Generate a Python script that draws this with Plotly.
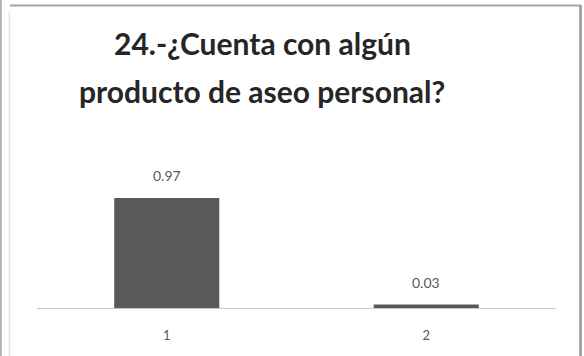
import plotly.graph_objects as go

# Survey answer categories and their shares
categories = ["1", "2"]
shares = [0.97, 0.03]
title_lines = ["24.-¿Cuenta con algún", "producto de aseo personal?"]

W, H = 584, 356
L, R, T, B = 37, 28, 100, 48
plot_w = W - L - R
plot_h = H - T - B
y_max = 1.834

def px_x(p):
    return (p - L) / plot_w

def px_y(p):
    return (H - B - p) / plot_h

fig = go.Figure()
fig.add_trace(go.Bar(
    x=categories,
    y=shares,
    marker=dict(color="#595959", line=dict(width=0)),
    width=0.405,
    hoverinfo="skip",
))

annotations = []
for i, v in enumerate(shares):
    annotations.append(dict(
        x=i, y=v, xref="x", yref="y", text=f"{v:.2f}", showarrow=False,
        yanchor="bottom", yshift=12,
        font=dict(family="Lato, Open Sans, sans-serif", size=14, color="#595959"),
    ))

# Two-line chart title
for i, line in enumerate(title_lines):
    annotations.append(dict(
        x=px_x(262), y=px_y(43 + 48 * i), xref="paper", yref="paper",
        text=line, showarrow=False, xanchor="center", yanchor="middle",
        font=dict(family="Lato, Open Sans, sans-serif", size=30, color="#262626",
                  weight="bold"),
    ))

frame = "#a6a6a6"
shapes = [
    dict(type="line", xref="paper", yref="paper", x0=px_x(0.8), x1=px_x(0.8),
         y0=px_y(0), y1=px_y(356), line=dict(color="#b3b3b3", width=2)),
    dict(type="line", xref="paper", yref="paper", x0=px_x(9.5), x1=px_x(9.5),
         y0=px_y(12), y1=px_y(356), line=dict(color="#e3e3e3", width=1.5)),
    dict(type="line", xref="paper", yref="paper", x0=px_x(10), x1=px_x(581),
         y0=px_y(5.5), y1=px_y(5.5), line=dict(color=frame, width=2)),
    dict(type="line", xref="paper", yref="paper", x0=px_x(580.5), x1=px_x(580.5),
         y0=px_y(5), y1=px_y(356), line=dict(color=frame, width=3)),
]

fig.update_layout(
    width=W, height=H,
    margin=dict(l=L, r=R, t=T, b=B, pad=0),
    paper_bgcolor="white", plot_bgcolor="white",
    showlegend=False,
    bargap=0.6,
    annotations=annotations,
    shapes=shapes,
    xaxis=dict(
        type="category", showgrid=False, zeroline=False,
        showline=True, linecolor="#c8c8c8", linewidth=1,
        ticks="", ticklabelstandoff=15,
        tickfont=dict(family="Lato, Open Sans, sans-serif", size=13, color="#595959"),
        fixedrange=True,
    ),
    yaxis=dict(
        range=[0, y_max], visible=False, showgrid=False, zeroline=False,
        fixedrange=True,
    ),
)

fig.write_html("out.html", config={"displayModeBar": False})
